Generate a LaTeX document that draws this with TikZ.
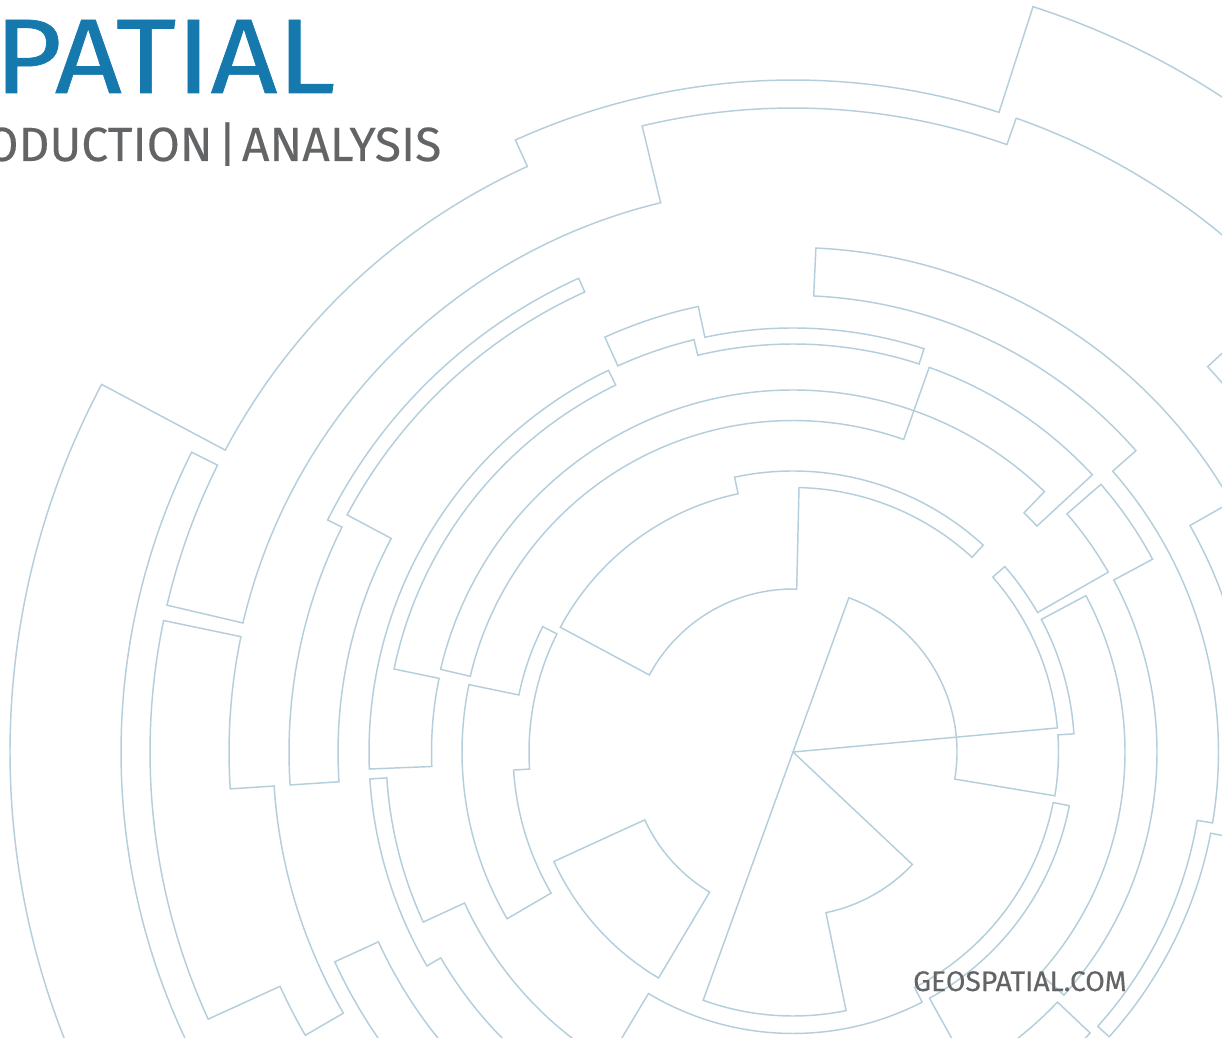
\documentclass[tikz,border=0pt]{standalone}
\usepackage{fontspec}
\setmainfont{Fira Sans}
\newfontfamily\titlefont[FakeBold=0.6]{Fira Sans}
\newfontfamily\subfont[FakeBold=0.2]{Fira Sans}
\definecolor{ringc}{HTML}{B5CEDC}
\definecolor{titlec}{HTML}{1579AE}
\definecolor{subc}{HTML}{636466}
\tikzset{ring/.style={draw=ringc,line width=1.45pt,line join=miter,fill=none}}
\begin{document}
\begin{tikzpicture}[x=1pt,y=1pt]
\useasboundingbox (0,0) rectangle (1222,1037);
\fill[white] (0,0) rectangle (1222,1037);
\begin{scope}[shift={(793,285)}]
% outermost
\draw[ring] (212:783) arc (212:152:783) -- (152:643) arc (152:114.4:643) -- (114.4:672) arc (114.4:72.15:672) -- (72.15:783) arc (72.15:42.9:783) -- (42.9:566) arc (42.9:15:566);
\draw[ring] (212:672) arc (212:153.5:672) -- (153.5:643) arc (153.5:166.8:643) -- (166.8:565) arc (166.8:103.55:565) -- (103.55:644) arc (103.55:70.6:644) -- (70.6:672) arc (70.6:45:672);
\draw[ring] (168.2:643) arc (168.2:204.55:643) -- (204.55:564) arc (204.55:210.15:564) -- (210.15:520) arc (210.15:183.75:520) -- (183.75:564) arc (183.75:168.2:564) -- cycle;
% second band
\draw[ring] (114.35:520) arc (114.35:153.5:520) -- (153.5:504) arc (153.5:183.75:504) -- (183.75:455) arc (183.75:152:455) -- (152:505) arc (152:114.35:505) -- cycle;
\draw[ring] (114.4:455.5) arc (114.4:102:455.5) -- (102:424) arc (102:72:424) -- (72:408) arc (72:103.5:408) -- (103.5:424) arc (103.5:114.4:424) -- cycle;
\draw[ring] (87.4:504.5) arc (87.4:29.7:504.5) -- (29.7:457) arc (29.7:-11:457) -- (-11:425.5) arc (-11:-42:425.5) -- (-42:410) arc (-42:-9.6:410) -- (-9.6:425.5) arc (-9.6:41.3:425.5) -- (41.3:456.5) arc (41.3:87.4:456.5) -- cycle;
\draw[ring] (115.8:424) arc (115.8:182.3:424) -- (182.3:361.5) arc (182.3:168.25:361.5) -- (168.25:407.5) arc (168.25:115.8:407.5) -- cycle;
\draw[ring] (235:408) arc (235:210.3:408) -- (210.3:424) arc (210.3:183.65:424) -- (183.65:407) arc (183.65:204.7:407) -- (204.7:361.5) arc (204.7:240:361.5);
\draw[ring] (235:504) arc (235:204.6:504) -- (204.6:456) arc (204.6:240:456);
\draw[ring] (70.5:408) arc (70.5:42.8:408) -- (42.8:332.5) arc (42.8:46:332.5) -- (46:362) arc (46:166.8:362) -- (166.8:331.5) arc (166.8:70.5:331.5) -- cycle;
% centre
\draw[ring] (0:0) -- (5.2:265.5) arc (5.2:41.2:265.5) -- (41.2:281.5) arc (41.2:29.7:281.5) -- (29.7:363) arc (29.7:41:363) -- (41:408) arc (41:28.2:408) -- (28.2:364) arc (28.2:-41.9:364) -- (-41.9:332) arc (-41.9:28.1:332) -- (28.1:281.5) arc (28.1:3.7:281.5) -- (3.7:265.5) arc (3.7:-9.5:265.5) -- (-9.5:164) arc (-9.5:70.1:164) -- (250.1:264) arc (250.1:281.6:264) -- (281.6:164) arc (281.6:316.7:164) -- cycle;
\draw[ring] (-120.9:345) -- (-120.9:281.5) arc (-120.9:-62.7:281.5) -- (-62.7:265) arc (-62.7:-11:265) -- (-11:281.5) arc (-11:-61:281.5) -- (-61:345);
\draw[ring] (-60:364) arc (-60:-43.4:364) -- (-43.4:409) arc (-43.4:-55:409);
\draw[ring] (102:281) arc (102:47.4:281) -- (47.4:264.5) arc (47.4:88.7:264.5) -- (88.7:163) arc (88.7:151.8:163) -- (151.8:264) arc (151.8:102:264) -- cycle;
\draw[ring] (168.25:331) arc (168.25:210.25:331) -- (210.25:280) arc (210.25:183.7:280) -- (183.7:264) arc (183.7:153.4:264) -- (153.4:280) arc (153.4:168.25:280) -- cycle;
\draw[ring] (204.6:263) arc (204.6:239.25:263) -- (239.25:163) arc (239.25:204.6:163) -- cycle;
\end{scope}
\node[anchor=base west,inner sep=0pt,text=titlec,xscale=1.1,font=\titlefont\fontsize{106}{106}\selectfont] (title) at (-6,944) {PATIAL};
\node[anchor=base east,inner sep=0pt,text=subc,font=\subfont\fontsize{48}{48}\selectfont] (sub) at (441.5,876) {ODUCTION\hspace{5pt}|\hspace{5pt}ANALYSIS};
\node[anchor=base west,inner sep=0pt,text=subc,font=\subfont\fontsize{28.3}{28.3}\selectfont] (web) at (913,46) {GEOSPATIAL.COM};
\end{tikzpicture}
\end{document}
